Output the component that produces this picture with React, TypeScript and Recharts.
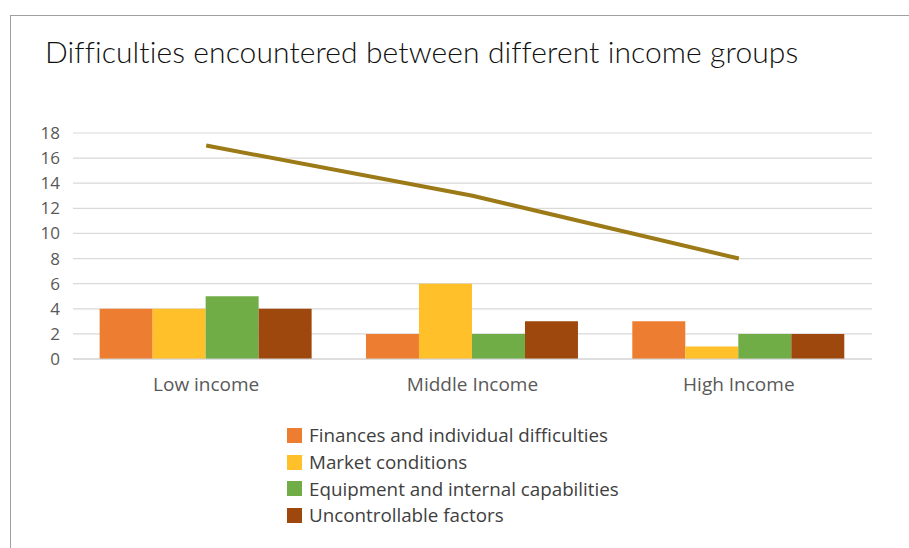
import { ComposedChart, Bar, Line, XAxis, YAxis, CartesianGrid } from 'recharts';

const categories = ['Low income', 'Middle Income', 'High Income'];
const finances = [4, 2, 3];
const market = [4, 6, 1];
const equipment = [5, 2, 2];
const uncontrollable = [4, 3, 2];
const total = [17, 13, 8];
const yTicks = [0, 2, 4, 6, 8, 10, 12, 14, 16, 18];

const barSeries = [
  { key: 'finances', name: 'Finances and individual difficulties', color: '#ED7D31' },
  { key: 'market', name: 'Market conditions', color: '#FFC02A' },
  { key: 'equipment', name: 'Equipment and internal capabilities', color: '#70AD47' },
  { key: 'uncontrollable', name: 'Uncontrollable factors', color: '#9E480E' },
];

const data = categories.map((name, i) => ({
  name,
  finances: finances[i],
  market: market[i],
  equipment: equipment[i],
  uncontrollable: uncontrollable[i],
  total: total[i],
}));

const font = '"Open Sans", "Liberation Sans", sans-serif';

// legend sits below the plot, line series is left out like in the original
const LegendBox = () => (
  <div style={{ position: 'absolute', left: 287, top: 422, fontFamily: font, fontSize: 18.8, color: '#404040' }}>
    {barSeries.map(s => (
      <div key={s.key} style={{ display: 'flex', alignItems: 'center', height: 26.7 }}>
        <span style={{ width: 15, height: 15, background: s.color, marginRight: 7, display: 'inline-block' }} />
        <span>{s.name}</span>
      </div>
    ))}
  </div>
);

export default function App() {
  return (
    <div style={{ position: 'absolute', left: 0, top: 0, width: 909, height: 548, background: '#fff', overflow: 'hidden' }}>
      <div style={{ position: 'absolute', left: 10, top: 15, width: 920, height: 560, borderLeft: '1.5px solid #a0a0a0', borderTop: '1.5px solid #a0a0a0' }} />
      <div style={{ position: 'absolute', left: 45, top: 33, fontFamily: 'Lato, sans-serif', fontWeight: 300, fontSize: 30, color: '#111', letterSpacing: 0.1, whiteSpace: 'nowrap' }}>
        Difficulties encountered between different income groups
      </div>
      <div style={{ position: 'absolute', left: 0, top: 0 }}>
        <ComposedChart width={909} height={548} data={data} margin={{ top: 133, right: 37, bottom: 159, left: 0 }} barCategoryGap="10%" barGap={0}>
          <CartesianGrid vertical={false} stroke="#d9d9d9" strokeWidth={1.2} />
          <XAxis dataKey="name" axisLine={{ stroke: '#d0d0d0', strokeWidth: 1.2 }} tickLine={false} tickSize={0} tickMargin={19} height={30}
            tick={{ fill: '#595959', fontSize: 19, fontFamily: font }} />
          <YAxis domain={[0, 18]} ticks={yTicks} interval={0} width={73} axisLine={false} tickLine={false} tickSize={0} tickMargin={13}
            tick={{ fill: '#595959', fontSize: 17, fontFamily: font }} />
          {barSeries.map(s => (
            <Bar key={s.key} dataKey={s.key} name={s.name} fill={s.color} isAnimationActive={false} />
          ))}
          <Line dataKey="total" stroke="#9C7A17" strokeWidth={4} dot={false} activeDot={false} isAnimationActive={false} legendType="none" />
        </ComposedChart>
      </div>
      <LegendBox />
    </div>
  );
}
